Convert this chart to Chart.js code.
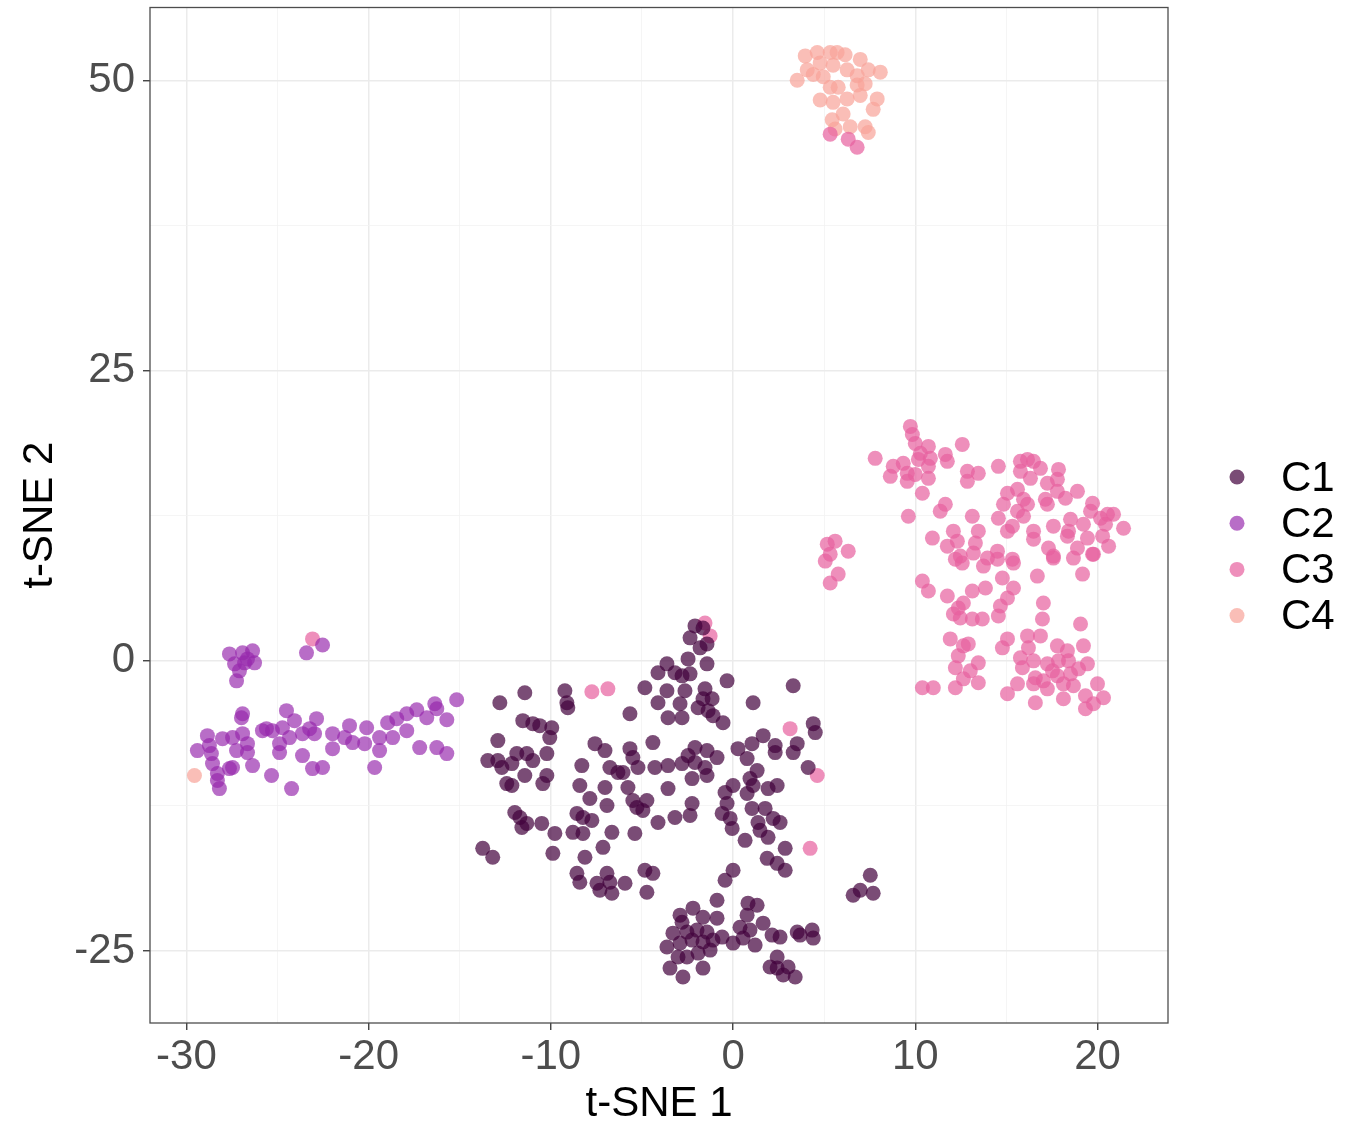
<!DOCTYPE html>
<html>
<head>
<meta charset="utf-8">
<script src="https://cdn.jsdelivr.net/npm/chart.js@4.4.1/dist/chart.umd.min.js"></script>
<style>
  html, body { margin: 0; padding: 0; background: #fff; }
  canvas { display: block; }
</style>
</head>
<body>
<canvas id="tsneChart" width="1362" height="1134"></canvas>
<script>
// cluster names and the points (t-SNE 1, t-SNE 2)
const clusters = ['C1', 'C2', 'C3', 'C4'];

const c1Points = [
  [-12.80,-3.61],[-11.43,-2.75],[-9.23,-2.58],[-9.12,-3.61],[-9.07,-4.04],[-5.66,-4.55],[-4.84,-2.32],
  [-11.54,-5.15],[-10.99,-5.41],[-10.61,-5.58],[-9.95,-5.76],[-10.06,-6.61],[-12.91,-6.87],[-13.46,-8.59],
  [-12.91,-8.59],[-12.69,-9.19],[-12.14,-8.85],[-11.87,-7.99],[-11.32,-7.99],[-10.99,-8.59],[-10.22,-7.99],
  [-11.43,-9.88],[-12.42,-10.57],[-12.14,-10.74],[-10.22,-9.88],[-10.44,-10.57],[-11.98,-13.06],[-11.70,-13.49],
  [-11.32,-14.00],[-11.59,-14.35],[-10.50,-14.00],[-9.78,-14.86],[-13.74,-16.15],[-13.19,-16.92],[-9.89,-16.58],
  [-7.58,-7.13],[-7.03,-7.73],[-8.30,-9.02],[-6.76,-9.19],[-6.32,-9.62],[-6.04,-9.62],[-8.41,-10.74],
  [-7.03,-10.91],[-7.86,-11.85],[-6.92,-12.46],[-5.77,-10.91],[-5.66,-7.56],[-5.50,-8.33],[-5.22,-9.19],
  [-8.57,-13.14],[-8.24,-13.49],[-7.75,-13.74],[-8.79,-14.77],[-8.24,-14.86],[-6.65,-14.77],[-5.39,-14.86],
  [-7.14,-16.06],[-8.13,-16.92],[-8.57,-18.30],[-8.41,-19.07],[-7.47,-19.16],[-6.92,-18.30],[-6.76,-19.07],
  [-5.93,-19.16],[-7.31,-19.76],[-6.65,-20.01],[-5.50,-12.03],[-5.28,-12.63],[-4.95,-12.89],[-4.73,-12.03],
  [-4.84,-18.04],
  [-2.09,3.01],[-1.65,2.83],[-2.36,1.98],[-1.81,1.12],[-1.43,1.46],[-2.47,0.17],[-3.63,-0.26],[-4.12,-1.03],
  [-3.19,-1.03],[-2.80,-1.29],[-2.36,-1.12],[-1.43,-0.26],[-3.63,-2.58],[-2.64,-2.58],[-1.54,-2.41],
  [-1.15,-3.26],[-1.65,-3.26],[-0.33,-1.72],[-4.12,-3.61],[-2.91,-3.69],[-1.92,-4.04],[-1.37,-4.30],
  [-1.10,-4.72],[-0.55,-5.33],[-3.57,-4.90],[-2.80,-4.90],[1.10,-3.61],[3.30,-2.15],[-4.40,-7.04],
  [-4.29,-9.19],[-3.57,-9.02],[-2.80,-8.85],[-2.47,-8.16],[-2.09,-7.47],[-1.43,-7.73],[-0.88,-8.33],
  [-2.09,-8.76],[-1.54,-9.19],[-2.25,-10.14],[-1.43,-9.88],[-3.57,-11.00],[-4.12,-13.92],[-3.19,-13.49],
  [-2.25,-12.28],[-2.36,-13.31],[0.27,-7.56],[0.77,-8.42],[1.04,-7.13],[1.65,-6.44],[2.31,-7.30],
  [2.31,-7.90],[3.30,-7.90],[3.52,-7.13],[4.40,-5.41],[4.51,-6.18],[4.12,-9.19],[0.00,-10.74],[0.93,-10.14],
  [1.10,-10.74],[1.32,-9.45],[1.92,-11.00],[2.42,-10.74],[-0.44,-11.34],[-0.33,-12.28],[0.77,-11.42],
  [1.04,-12.71],[1.76,-12.71],[-0.60,-13.14],[-0.16,-13.57],[-0.05,-14.43],[1.37,-13.92],[2.20,-13.57],
  [2.58,-13.92],[0.66,-15.46],[1.48,-14.60],[1.92,-15.20],[2.86,-16.15],
  [-4.40,-18.30],[-4.73,-19.93],[-0.44,-18.90],[0.00,-18.04],[1.87,-17.01],[2.42,-17.44],[2.86,-18.04],
  [7.53,-18.47],[6.98,-19.76],[6.59,-20.19],[7.69,-20.01],[-0.88,-20.62],[-2.91,-21.90],[-2.20,-21.30],
  [-1.65,-22.08],[-0.88,-22.16],[-2.80,-22.51],[0.82,-20.87],[1.32,-21.05],[0.77,-21.90],[0.38,-22.94],
  [1.65,-22.59],[0.93,-23.19],[-3.30,-23.45],[-2.53,-23.36],[-1.98,-23.19],[-1.43,-23.36],[-3.63,-24.65],
  [-2.91,-24.31],[-2.25,-24.05],[-1.65,-24.22],[-1.10,-24.05],[-0.60,-23.79],[0.00,-24.31],[0.55,-23.88],
  [1.21,-24.48],[2.14,-23.62],[2.58,-23.79],[3.52,-23.36],[4.34,-23.19],[4.40,-23.88],[3.68,-23.62],
  [-3.46,-26.46],[-2.75,-27.23],[-1.65,-26.46],[-2.53,-25.51],[-1.92,-25.17],[-1.26,-24.91],[-3.02,-25.51],
  [2.42,-25.51],[2.03,-26.37],[2.42,-26.46],[3.02,-26.37],[3.41,-27.23],[2.75,-27.06]
];

const c2Points = [
  [-27.64,0.60],[-26.92,0.69],[-26.37,0.86],[-26.26,-0.17],[-26.81,-0.17],[-27.36,-0.26],[-27.09,-0.86],
  [-27.25,-1.72],[-26.65,0.17],[-23.41,0.69],[-22.53,1.37],
  [-15.17,-3.35],[-16.37,-3.69],[-17.36,-4.21],[-17.91,-4.55],[-18.46,-4.98],[-18.96,-5.33],[-16.81,-4.90],
  [-15.71,-5.07],[-16.26,-4.12],[-17.91,-6.01],[-18.68,-6.61],[-19.40,-6.61],[-20.11,-5.76],[-21.05,-5.58],
  [-20.88,-7.04],[-20.22,-7.13],[-21.32,-6.61],[-21.98,-6.27],[-21.98,-7.56],[-19.40,-7.73],[-19.67,-9.19],
  [-17.20,-7.47],[-16.26,-7.47],[-15.71,-7.99],[-22.86,-4.98],[-23.24,-5.84],[-22.97,-6.27],[-23.63,-6.27],
  [-24.07,-5.15],[-24.51,-4.29],[-24.73,-5.76],[-25.28,-6.01],[-25.61,-5.84],[-25.83,-6.01],[-24.89,-7.13],
  [-24.34,-6.61],[-23.63,-8.16],[-24.89,-7.90],[-23.08,-9.28],[-22.53,-9.19],[-24.23,-11.00],[-25.33,-9.88],
  [-26.37,-9.02],[-26.92,-4.55],[-26.98,-4.90],[-26.92,-6.27],[-26.65,-7.13],[-26.65,-7.90],[-27.47,-6.61],
  [-27.25,-7.73],[-27.47,-9.19],[-28.02,-6.70],[-28.85,-6.44],[-28.74,-7.30],[-29.40,-7.73],[-28.63,-7.99],
  [-28.57,-8.85],[-28.30,-9.71],[-28.30,-10.31],[-28.19,-11.00],[-27.64,-9.28]
];

const c3Points = [
  [9.73,20.19],[9.84,19.50],[10.00,18.73],[10.72,18.47],[10.28,17.87],[10.17,17.35],[10.83,17.44],
  [10.72,16.75],[9.34,17.01],[8.79,16.75],[8.63,15.89],[9.56,16.15],[9.56,15.46],[10.00,16.06],[10.72,15.72],
  [7.80,17.44],[10.39,14.43],[11.65,17.78],[11.76,17.18],[12.58,18.64],[12.86,16.32],[13.46,16.15],
  [12.86,15.46],[14.56,16.75],[15.77,17.18],[16.16,17.35],[16.49,17.18],[16.87,16.58],[15.77,16.32],
  [16.32,15.72],[17.86,16.49],[17.80,15.63],[17.25,15.29],[18.90,14.60],[17.80,14.60],[18.24,14.00],
  [17.14,13.92],[17.25,13.49],[19.73,13.57],[15.06,14.43],[15.61,14.77],[15.94,13.92],[16.16,13.49],
  [14.84,13.49],[15.61,12.89],[15.94,12.46],[14.56,12.28],[15.33,11.60],[15.06,11.17],[16.49,11.17],
  [16.49,10.48],[9.62,12.46],[11.37,12.89],[11.65,13.49],[13.13,12.46],[10.94,10.57],[12.09,11.17],
  [12.31,10.31],[11.76,9.88],[13.46,11.17],[13.30,10.14],[13.19,9.28],[12.47,9.02],[14.51,9.45],
  [15.33,8.76],[13.96,8.85],[17.58,11.60],[18.41,11.17],[18.52,12.20],[19.23,11.77],[19.62,12.89],
  [20.17,12.28],[20.55,12.63],[20.88,12.63],[21.43,11.42],[20.44,11.77],[20.28,10.74],[19.45,10.57],
  [18.90,9.71],[18.35,10.74],[18.68,8.85],[17.31,9.71],[17.58,8.85],[19.78,9.19],[20.61,9.88],
  [12.58,8.42],[12.20,8.76],[13.74,8.16],[14.51,8.76],[15.39,8.42],[17.58,9.02],[19.73,9.19],[16.70,7.30],
  [19.18,7.47],[10.39,6.87],[10.72,6.01],[11.76,5.58],[13.13,6.01],[13.85,6.27],[14.78,7.13],[15.39,6.27],
  [15.06,5.41],[12.64,4.98],[12.36,4.55],[12.09,4.04],[12.47,3.69],[13.13,3.61],[13.68,3.61],[14.56,3.87],
  [14.67,4.72],[17.03,4.98],[16.98,3.61],[19.07,3.18],[11.92,1.89],[12.64,1.29],[12.91,1.46],[12.36,0.43],
  [12.20,-0.60],[13.02,-0.86],[13.46,-0.17],[12.64,-1.55],[12.20,-2.32],[13.46,-1.89],[10.39,-2.32],
  [10.99,-2.32],[15.06,1.89],[14.78,1.12],[16.16,2.15],[16.87,2.15],[16.21,1.12],[15.77,0.26],[15.88,-0.60],
  [16.49,0.00],[17.25,-0.26],[17.80,1.29],[18.35,0.86],[18.41,0.00],[17.86,0.00],[17.53,-0.86],[17.80,-1.29],
  [18.52,-1.12],[19.23,1.29],[19.45,-0.26],[18.96,-0.69],[18.68,-2.15],[18.13,-1.98],[17.03,-1.72],
  [16.49,-1.98],[16.59,-1.46],[15.61,-1.98],[15.06,-2.83],[17.25,-2.41],[18.13,-3.26],[16.59,-3.61],
  [19.34,-3.01],[20.00,-1.98],[20.33,-3.18],[19.78,-3.69],[19.34,-4.12],
  [5.60,10.31],[5.17,10.05],[5.33,9.19],[5.06,8.59],[6.32,9.45],[5.77,7.47],[5.33,6.70],
  [-1.54,3.26],[-1.26,2.15],[3.13,-5.84],[4.62,-9.88],[4.23,-16.15],[-7.75,-2.66],[-6.87,-2.41],
  [-23.08,1.89],[5.33,45.36],[6.32,44.93],[6.81,44.24]
];

const c4Points = [
  [3.52,50.00],[4.07,50.90],[3.96,52.10],[4.62,52.40],[4.78,51.50],[5.33,52.40],[5.71,52.40],[6.15,52.20],
  [6.98,51.80],[8.08,50.70],[7.42,50.90],[6.81,50.40],[6.26,50.90],[5.49,51.30],[4.95,50.30],[4.40,50.50],
  [5.33,49.40],[5.77,49.40],[7.25,49.70],[6.81,49.60],[4.78,48.30],[5.49,48.10],[6.26,48.40],[6.98,48.70],
  [7.91,48.40],[7.69,47.50],[5.44,46.60],[6.04,47.10],[5.60,45.80],[6.43,46.00],[7.25,46.00],[7.42,45.50],
  [-29.56,-9.88]
];

const seriesPoints = [c1Points, c2Points, c3Points, c4Points];

// ticks: every 5 / 12.5 draws a grid line, labels only on the major ones
const xTicks = [-30, -25, -20, -15, -10, -5, 0, 5, 10, 15, 20];
const yTicks = [-25, -12.5, 0, 12.5, 25, 37.5, 50];
const xMajorStep = 10;
const yMajorStep = 25;
const xLimits = [-32.0, 23.87];
const yLimits = [-31.19, 56.27];

const clusterColors = [
  'rgba(65, 0, 60, 0.7)',
  'rgba(150, 40, 172, 0.68)',
  'rgba(231, 95, 158, 0.7)',
  'rgba(248, 162, 152, 0.7)'
];

const FONT_FAMILY = '"Liberation Sans", Arial, Helvetica, sans-serif';
const GRID_MAJOR = '#ebebeb';
const GRID_MINOR = '#f2f2f2';

// panel border like theme_bw
const framePlugin = {
  id: 'frame',
  afterDatasetsDraw(chart) {
    const { ctx, chartArea: a } = chart;
    ctx.save();
    ctx.strokeStyle = '#4d4d4d';
    ctx.lineWidth = 1.3;
    ctx.strokeRect(a.left, a.top, a.right - a.left, a.bottom - a.top);
    ctx.restore();
  }
};

// legend at the right, drawn from the dataset labels
const sideLegend = {
  id: 'sideLegend',
  afterDraw(chart) {
    const ctx = chart.ctx;
    ctx.save();
    ctx.font = '42px ' + FONT_FAMILY;
    ctx.textBaseline = 'middle';
    ctx.textAlign = 'left';
    chart.data.datasets.forEach((ds, i) => {
      const y = 477 + i * 46.2;
      ctx.fillStyle = ds.backgroundColor;
      ctx.beginPath();
      ctx.arc(1237, y, 7.5, 0, Math.PI * 2);
      ctx.fill();
      ctx.fillStyle = '#000';
      ctx.fillText(ds.label, 1281, y + 2);
    });
    ctx.restore();
  }
};

const isMajor = (v, step) => Math.abs(v / step - Math.round(v / step)) < 1e-6;

function gridOptions(step) {
  return {
    color: (c) => (isMajor(c.tick.value, step) ? GRID_MAJOR : GRID_MINOR),
    lineWidth: (c) => (isMajor(c.tick.value, step) ? 1.5 : 0.8),
    tickColor: (c) => (isMajor(c.tick.value, step) ? '#333333' : 'rgba(0,0,0,0)'),
    tickLength: 7,
    tickWidth: 1.3,
    drawTicks: true
  };
}

// fix the panel box and drop the extra room Chart.js keeps for edge labels
function fixBox(size, key) {
  return (s) => {
    s[key] = size;
    s.paddingTop = 0;
    s.paddingBottom = 0;
    s.paddingLeft = 0;
    s.paddingRight = 0;
  };
}

const ctx = document.getElementById('tsneChart').getContext('2d');
new Chart(ctx, {
  type: 'scatter',
  data: {
    datasets: clusters.map((name, i) => ({
      label: name,
      data: seriesPoints[i].map(([x, y]) => ({ x, y })),
      backgroundColor: clusterColors[i],
      borderWidth: 0,
      pointRadius: 7.5,
      pointHoverRadius: 7.5
    }))
  },
  options: {
    responsive: false,
    animation: false,
    devicePixelRatio: 1,
    layout: { padding: { left: 0, top: 5, right: 194, bottom: 0 } },
    plugins: { legend: { display: false }, tooltip: { enabled: false } },
    scales: {
      x: {
        type: 'linear',
        min: xLimits[0],
        max: xLimits[1],
        afterBuildTicks: (s) => { s.ticks = xTicks.map((v) => ({ value: v })); },
        afterFit: fixBox(111, 'height'),
        ticks: {
          autoSkip: false,
          maxRotation: 0,
          padding: 2,
          color: '#4d4d4d',
          font: { family: FONT_FAMILY, size: 42 },
          callback: (v) => (isMajor(v, xMajorStep) ? String(v) : '')
        },
        grid: gridOptions(xMajorStep),
        border: { display: false },
        title: {
          display: true,
          text: 't-SNE 1',
          color: '#000',
          font: { family: FONT_FAMILY, size: 42 },
          padding: { top: 0, bottom: 4 }
        }
      },
      y: {
        type: 'linear',
        min: yLimits[0],
        max: yLimits[1],
        afterBuildTicks: (s) => { s.ticks = yTicks.map((v) => ({ value: v })); },
        afterFit: fixBox(150, 'width'),
        ticks: {
          autoSkip: false,
          padding: 8,
          color: '#4d4d4d',
          font: { family: FONT_FAMILY, size: 42 },
          callback: (v) => (isMajor(v, yMajorStep) ? String(v) : '')
        },
        grid: gridOptions(yMajorStep),
        border: { display: false },
        title: {
          display: true,
          text: 't-SNE 2',
          color: '#000',
          font: { family: FONT_FAMILY, size: 42 },
          padding: { top: 15, bottom: 0 }
        }
      }
    }
  },
  plugins: [framePlugin, sideLegend]
});
</script>
</body>
</html>
